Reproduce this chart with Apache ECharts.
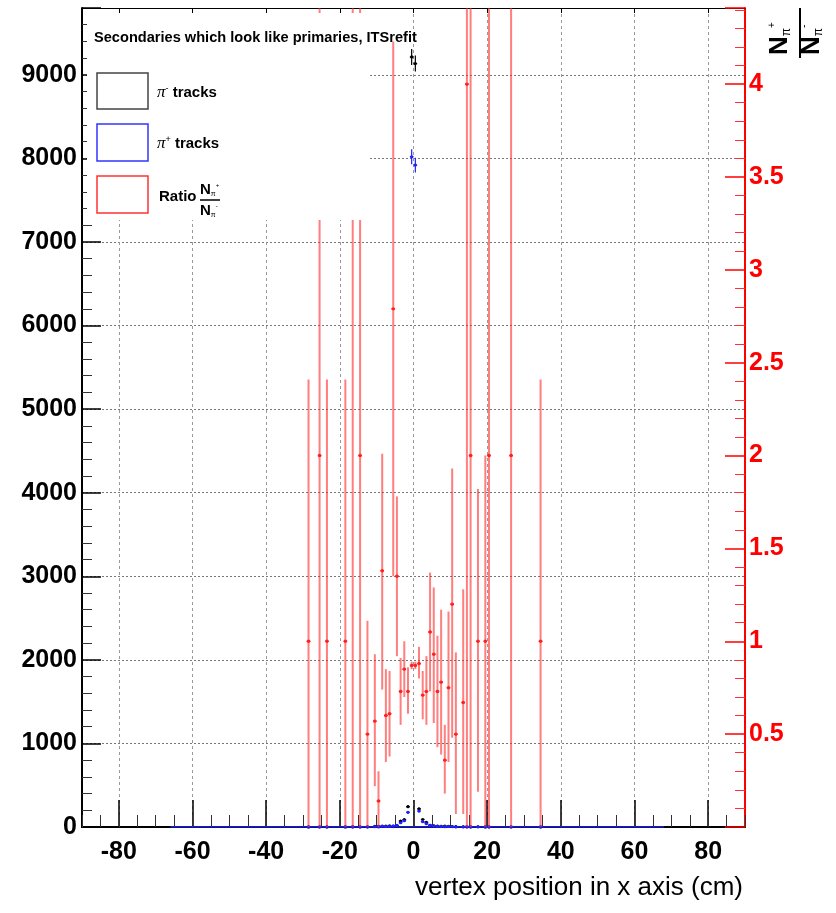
<!DOCTYPE html>
<html>
<head>
<meta charset="utf-8">
<script src="https://cdn.jsdelivr.net/npm/echarts@6/dist/echarts.min.js"></script>
<style>
  html, body { margin: 0; padding: 0; background: #fff; }
  #chart { width: 836px; height: 913px; }
</style>
</head>
<body>
<div id="chart"></div>
<script>
// bin centres (1 cm bins) that hold entries
const binCenters = [-28.5, -25.5, -23.5, -18.5, -16.5, -14.5, -12.5, -10.5, -9.5, -8.5,
  -7.5, -6.5, -5.5, -4.5, -3.5, -2.5, -1.5, -0.5, 0.5, 1.5,
  2.5, 3.5, 4.5, 5.5, 6.5, 7.5, 8.5, 9.5, 10.5, 11.5,
  13.5, 14.5, 15.5, 17.5, 19.5, 20.5, 26.5, 34.5];

// pi- and pi+ track counts per bin
const piMinus = [1, 1, 1, 1, 1, 1, 2, 7, 7, 8,
  10, 13, 5, 14, 70, 88, 243, 9214, 9135, 217,
  90, 55, 20, 14, 11, 9, 11, 8, 5, 4,
  3, 1, 1, 3, 1, 1, 1, 1];
const piPlus = [1, 2, 1, 1, 4, 2, 1, 4, 1, 11,
  6, 8, 14, 19, 51, 75, 176, 8020, 7920, 191,
  64, 40, 21, 13, 8, 7, 4, 6, 6, 2,
  2, 4, 2, 3, 1, 2, 2, 1];

// ratio N(pi+)/N(pi-) with ends of its error bar
const ratioVal = [1.00, 2.00, 1.00, 1.00, 4.00, 2.00, 0.50, 0.57, 0.14, 1.38,
  0.60, 0.61, 2.79, 1.35, 0.73, 0.85, 0.73, 0.87, 0.87, 0.88,
  0.71, 0.73, 1.05, 0.93, 0.73, 0.78, 0.36, 0.75, 1.20, 0.50,
  0.67, 4.00, 2.00, 1.00, 1.00, 2.00, 2.00, 1.00];
const ratioLow = [-0.41, -0.45, -0.41, -0.41, -0.47, -0.45, -0.11, 0.22, -0.02, 0.74,
  0.35, 0.38, 1.35, 0.92, 0.55, 0.70, 0.61, 0.85, 0.85, 0.80,
  0.58, 0.55, 0.73, 0.56, 0.43, 0.39, 0.18, 0.35, 0.48, 0.07,
  0.07, -0.47, -0.45, 0.19, 0.00, -0.45, -0.45, -0.41];
const ratioHigh = [2.41, 4.45, 2.41, 2.41, 8.47, 4.45, 1.11, 0.93, 0.30, 2.01,
  0.85, 0.84, 4.23, 1.78, 0.91, 1.00, 0.86, 0.89, 0.89, 0.97,
  0.84, 0.92, 1.37, 1.29, 1.03, 1.17, 0.55, 1.16, 1.93, 0.94,
  1.28, 8.47, 4.45, 1.82, 2.00, 4.45, 4.45, 2.41];

// empty bins drawn along zero
const emptyBinRange = [-66, 68];

const xTicks = [-80, -60, -40, -20, 0, 20, 40, 60, 80];
const binWidth = 1;

const SANS = '"Liberation Sans", Arial, sans-serif';

const chart = echarts.init(document.getElementById('chart'), null, { renderer: 'canvas' });

function clampTo(cs, y) {
  return Math.max(cs.y, Math.min(cs.y + cs.height, y));
}

function histItem(color) {
  return function (params, api) {
    const cs = params.coordSys;
    const x = api.value(0);
    const n = api.value(1);
    const err = Math.sqrt(n);
    const pc = api.coord([x, n]);
    const lo = api.coord([x, n - err]);
    const hi = api.coord([x, n + err]);
    const half = api.size([binWidth, 0])[0] / 2;
    return {
      type: 'group',
      children: [
        { type: 'line', shape: { x1: pc[0], y1: clampTo(cs, lo[1]), x2: pc[0], y2: clampTo(cs, hi[1]) },
          style: { stroke: color, lineWidth: 1.2 } },
        { type: 'line', shape: { x1: pc[0] - half, y1: pc[1], x2: pc[0] + half, y2: pc[1] },
          style: { stroke: color, lineWidth: 1.2 } },
        { type: 'circle', shape: { cx: pc[0], cy: pc[1], r: 1.6 }, style: { fill: color } }
      ]
    };
  };
}

function ratioItem(params, api) {
  const cs = params.coordSys;
  const x = api.value(0);
  const pc = api.coord([x, api.value(1)]);
  const lo = api.coord([x, api.value(2)]);
  const hi = api.coord([x, api.value(3)]);
  const half = api.size([binWidth, 0])[0] / 2;
  const children = [
    { type: 'line', shape: { x1: pc[0], y1: clampTo(cs, lo[1]), x2: pc[0], y2: clampTo(cs, hi[1]) },
      style: { stroke: 'rgba(255,40,40,0.6)', lineWidth: 2 } }
  ];
  if (pc[1] >= cs.y && pc[1] <= cs.y + cs.height) {
    children.push({ type: 'line', shape: { x1: pc[0] - half, y1: pc[1], x2: pc[0] + half, y2: pc[1] },
      style: { stroke: '#ff2020', lineWidth: 1.5 } });
    children.push({ type: 'circle', shape: { cx: pc[0], cy: pc[1], r: 1.7 }, style: { fill: '#ff2020' } });
  }
  return { type: 'group', children };
}

const piMinusData = binCenters.map((b, i) => [b, piMinus[i]]);
const piPlusData = binCenters.map((b, i) => [b, piPlus[i]]);
const ratioData = binCenters.map((b, i) => [b, ratioVal[i], ratioLow[i], ratioHigh[i]]);

const tickFont = { color: '#000', fontSize: 25, fontWeight: 'bold', fontFamily: SANS };
const plain = (v) => String(v);

const piLabel = (sign) => ({
  text: '{pi|π}{sup|' + sign + '} tracks', font: 'bold 15px ' + SANS, fill: '#000', verticalAlign: 'middle',
  rich: {
    pi: { fontSize: 17, fontFamily: '"Liberation Serif", serif', fontStyle: 'italic' },
    sup: { fontSize: 9, verticalAlign: 'top', fontFamily: SANS }
  }
});

const fracPart = (sign, size) => ({
  text: '{n|N}{s|π}{p|' + sign + '}', fill: '#000', align: 'left', verticalAlign: 'middle',
  rich: {
    n: { fontSize: size, fontWeight: 'bold', fontFamily: SANS },
    s: { fontSize: Math.round(size * 0.48), verticalAlign: 'bottom' },
    p: { fontSize: Math.round(size * 0.4), verticalAlign: 'top' }
  }
});

const option = {
  backgroundColor: '#fff',
  animation: false,
  grid: { left: 82, right: 91, top: 8, bottom: 86, containLabel: false },
  xAxis: [
    {
      type: 'value', min: -90, max: 90, position: 'bottom',
      axisLine: { show: true, onZero: false, lineStyle: { color: '#000', width: 2 } },
      axisTick: { show: true, inside: true, length: 27, customValues: xTicks, lineStyle: { color: '#000', width: 1.5 } },
      axisLabel: { customValues: xTicks, margin: 13, formatter: plain, ...tickFont },
      splitLine: { show: true, lineStyle: { type: [3, 3], color: '#999', width: 1 } },
      name: 'vertex position in x axis (cm)',
      nameLocation: 'end',
      nameGap: -2,
      nameTextStyle: {
        align: 'right', verticalAlign: 'top', padding: [48, 0, 0, 0],
        color: '#000', fontSize: 26, fontFamily: SANS
      }
    },
    {
      type: 'value', min: -90, max: 90, interval: 5, position: 'bottom',
      axisLine: { show: false, onZero: false },
      axisTick: { show: true, inside: true, length: 12, lineStyle: { color: '#333', width: 1 } },
      axisLabel: { show: false },
      splitLine: { show: false }
    },
    {
      type: 'value', min: -90, max: 90, position: 'top',
      axisLine: { show: true, onZero: false, lineStyle: { color: '#000', width: 1 } },
      axisTick: { show: true, inside: true, length: 5, customValues: xTicks, lineStyle: { color: '#000' } },
      axisLabel: { show: false },
      splitLine: { show: false }
    }
  ],
  yAxis: [
    {
      type: 'value', min: 0, max: 9800, interval: 1000, position: 'left',
      axisLine: { show: true, onZero: false, lineStyle: { color: '#000', width: 2 } },
      axisTick: { show: true, inside: true, length: 19, lineStyle: { color: '#000', width: 1.5 } },
      minorTick: { show: true, splitNumber: 5, length: 10, lineStyle: { color: '#333', width: 1 } },
      axisLabel: { margin: 5, showMaxLabel: false, formatter: plain, ...tickFont },
      splitLine: { show: true, lineStyle: { type: [2, 2], color: '#777', width: 1 } }
    },
    {
      type: 'value', min: 0, max: 4.41, interval: 0.5, position: 'right',
      axisLine: { show: true, onZero: false, lineStyle: { color: '#ff0000', width: 2 } },
      axisTick: { show: true, inside: true, length: 20, lineStyle: { color: '#ff0000', width: 1.5 } },
      minorTick: { show: true, splitNumber: 5, length: 10, lineStyle: { color: '#ff3030', width: 1 } },
      axisLabel: { margin: 4, showMinLabel: false, showMaxLabel: false, formatter: plain, ...tickFont, color: '#ff0000' },
      splitLine: { show: false }
    }
  ],
  series: [
    {
      type: 'line', xAxisIndex: 0, yAxisIndex: 0, symbol: 'none', silent: true,
      data: [[emptyBinRange[0], 0], [emptyBinRange[1], 0]],
      lineStyle: { color: '#2020ff', width: 1.5 }, z: 3
    },
    {
      name: 'pi- tracks', type: 'custom', xAxisIndex: 0, yAxisIndex: 0,
      renderItem: histItem('#000'), data: piMinusData, encode: { x: 0, y: 1 }, z: 3
    },
    {
      name: 'pi+ tracks', type: 'custom', xAxisIndex: 0, yAxisIndex: 0,
      renderItem: histItem('#2020ff'), data: piPlusData, encode: { x: 0, y: 1 }, z: 4
    },
    {
      name: 'Ratio', type: 'custom', xAxisIndex: 0, yAxisIndex: 1,
      renderItem: ratioItem, data: ratioData, encode: { x: 0, y: 1 }, z: 5
    }
  ],
  graphic: [
    // legend pad
    { type: 'rect', z: 100, shape: { x: 87, y: 13, width: 283, height: 207 }, style: { fill: '#fff' } },
    { type: 'text', z: 101, x: 94, y: 38,
      style: { text: 'Secondaries which look like primaries, ITSrefit', font: 'bold 14.6px ' + SANS,
        fill: '#000', verticalAlign: 'middle' } },
    { type: 'rect', z: 101, shape: { x: 97, y: 73, width: 51, height: 36 },
      style: { fill: 'none', stroke: '#444', lineWidth: 1.5 } },
    { type: 'rect', z: 101, shape: { x: 97, y: 124, width: 51, height: 37 },
      style: { fill: 'none', stroke: '#3333ff', lineWidth: 1.5 } },
    { type: 'rect', z: 101, shape: { x: 97, y: 176, width: 51, height: 37 },
      style: { fill: 'none', stroke: '#ff3333', lineWidth: 1.5 } },
    { type: 'text', z: 101, x: 157, y: 93, style: piLabel('-') },
    { type: 'text', z: 101, x: 157, y: 144, style: piLabel('+') },
    { type: 'text', z: 101, x: 159, y: 197,
      style: { text: 'Ratio', font: 'bold 15px ' + SANS, fill: '#000', verticalAlign: 'middle' } },
    { type: 'text', z: 101, x: 200, y: 190, style: fracPart('+', 15) },
    { type: 'line', z: 101, shape: { x1: 200, y1: 200, x2: 220, y2: 200 }, style: { stroke: '#000', lineWidth: 1.5 } },
    { type: 'text', z: 101, x: 200, y: 211, style: fracPart('-', 15) },
    // right axis title N(pi+)/N(pi-), rotated
    { type: 'text', z: 101, x: 780, y: 55, rotation: Math.PI / 2, style: fracPart('+', 26) },
    { type: 'line', z: 101, shape: { x1: 800, y1: 8, x2: 800, y2: 58 }, style: { stroke: '#000', lineWidth: 2 } },
    { type: 'text', z: 101, x: 812, y: 55, rotation: Math.PI / 2, style: fracPart('-', 26) }
  ]
};

chart.setOption(option);
</script>
</body>
</html>
